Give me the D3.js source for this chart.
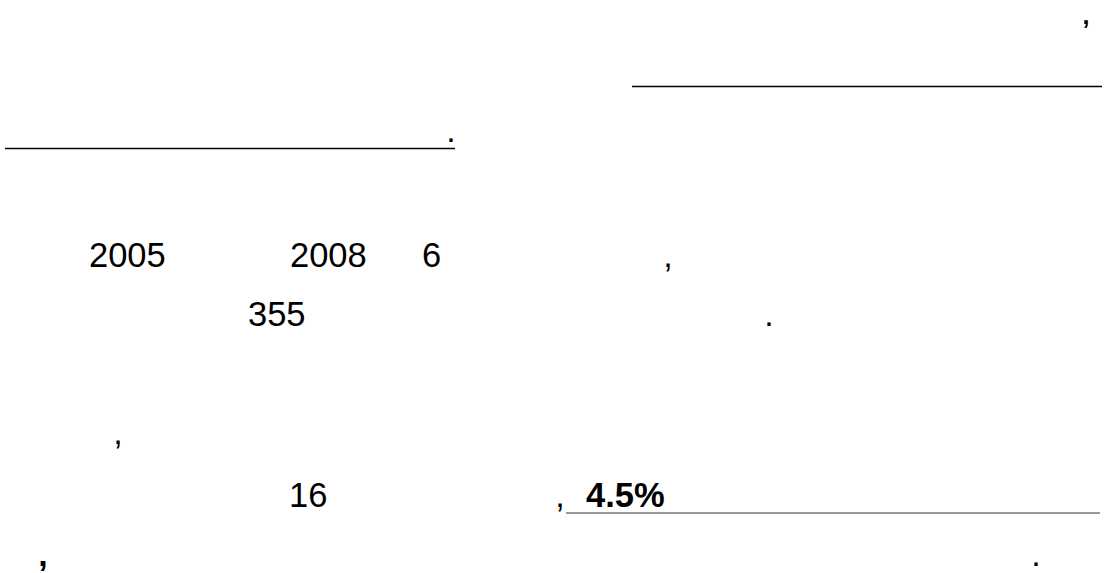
<!DOCTYPE html>
<head>
  <meta charset="utf-8" />
  <script src="https://d3js.org/d3.v7.min.js"></script>
  <style>
    body {
      margin: 0;
      background: white;
    }
    text {
      font-family: "Liberation Sans", Arial, sans-serif;
      fill: black;
    }
  </style>
</head>

<body>
  <script>
    var width = 1104,
      height = 573;

    // the values that are readable in the picture
    const numbers = ["2005", "2008", "6", "355", "16", "4.5%"];
    const numberRows = [3, 3, 3, 4, 6, 6];
    const numberBold = [false, false, false, false, false, true];

    const marks = [",", ".", ",", ".", ",", ",", ",", "."];
    const markRows = [0, 2, 3, 4, 5, 6, 7, 7];

    const ruleRows = [1, 2, 6];

    // layout (kept apart from the values)
    const rowBaseline = [24, 80, 142, 267, 326, 444, 507, 566];
    const numberX = [89, 290, 422, 248, 289, 586];
    const markX = [1086, 451, 668, 769, 118, 560, 43, 1036];
    const markBold = [true, false, false, false, false, false, true, false];
    const markSize = [25, 34, 34, 34, 34, 34, 34, 34];
    const ruleSpan = [[632, 1102], [5, 455], [566, 1100]];
    const ruleColor = ["#000", "#000", "#777"];

    var svg = d3
      .select("body")
      .append("svg")
      .attr("width", width)
      .attr("height", height);

    svg.append("rect").attr("width", width).attr("height", height).attr("fill", "white");

    var y = d3.scaleOrdinal().domain(d3.range(rowBaseline.length)).range(rowBaseline);

    // underlines
    svg
      .selectAll("line.rule")
      .data(ruleRows)
      .join("line")
      .attr("class", "rule")
      .attr("x1", (d, i) => ruleSpan[i][0])
      .attr("x2", (d, i) => ruleSpan[i][1])
      .attr("y1", (d, i) => y(d) + (i == 2 ? 6 : 6.5))
      .attr("y2", (d, i) => y(d) + (i == 2 ? 6 : 6.5))
      .attr("stroke", (d, i) => ruleColor[i])
      .attr("stroke-width", (d, i) => (i == 2 ? 1.6 : 1.4));

    svg
      .selectAll("text.num")
      .data(numbers)
      .join("text")
      .attr("class", "num")
      .attr("x", (d, i) => numberX[i])
      .attr("y", (d, i) => y(numberRows[i]))
      .style("font-size", "34.5px")
      .style("font-weight", (d, i) => (numberBold[i] ? "bold" : "normal"))
      .text((d) => d);

    svg
      .selectAll("text.mark")
      .data(marks)
      .join("text")
      .attr("class", "mark")
      .attr("x", (d, i) => markX[i])
      .attr("y", (d, i) => y(markRows[i]))
      .attr("text-anchor", "middle")
      .style("font-size", (d, i) => markSize[i] + "px")
      .style("font-weight", (d, i) => (markBold[i] ? "bold" : "normal"))
      .text((d) => d);
  </script>
</body>
